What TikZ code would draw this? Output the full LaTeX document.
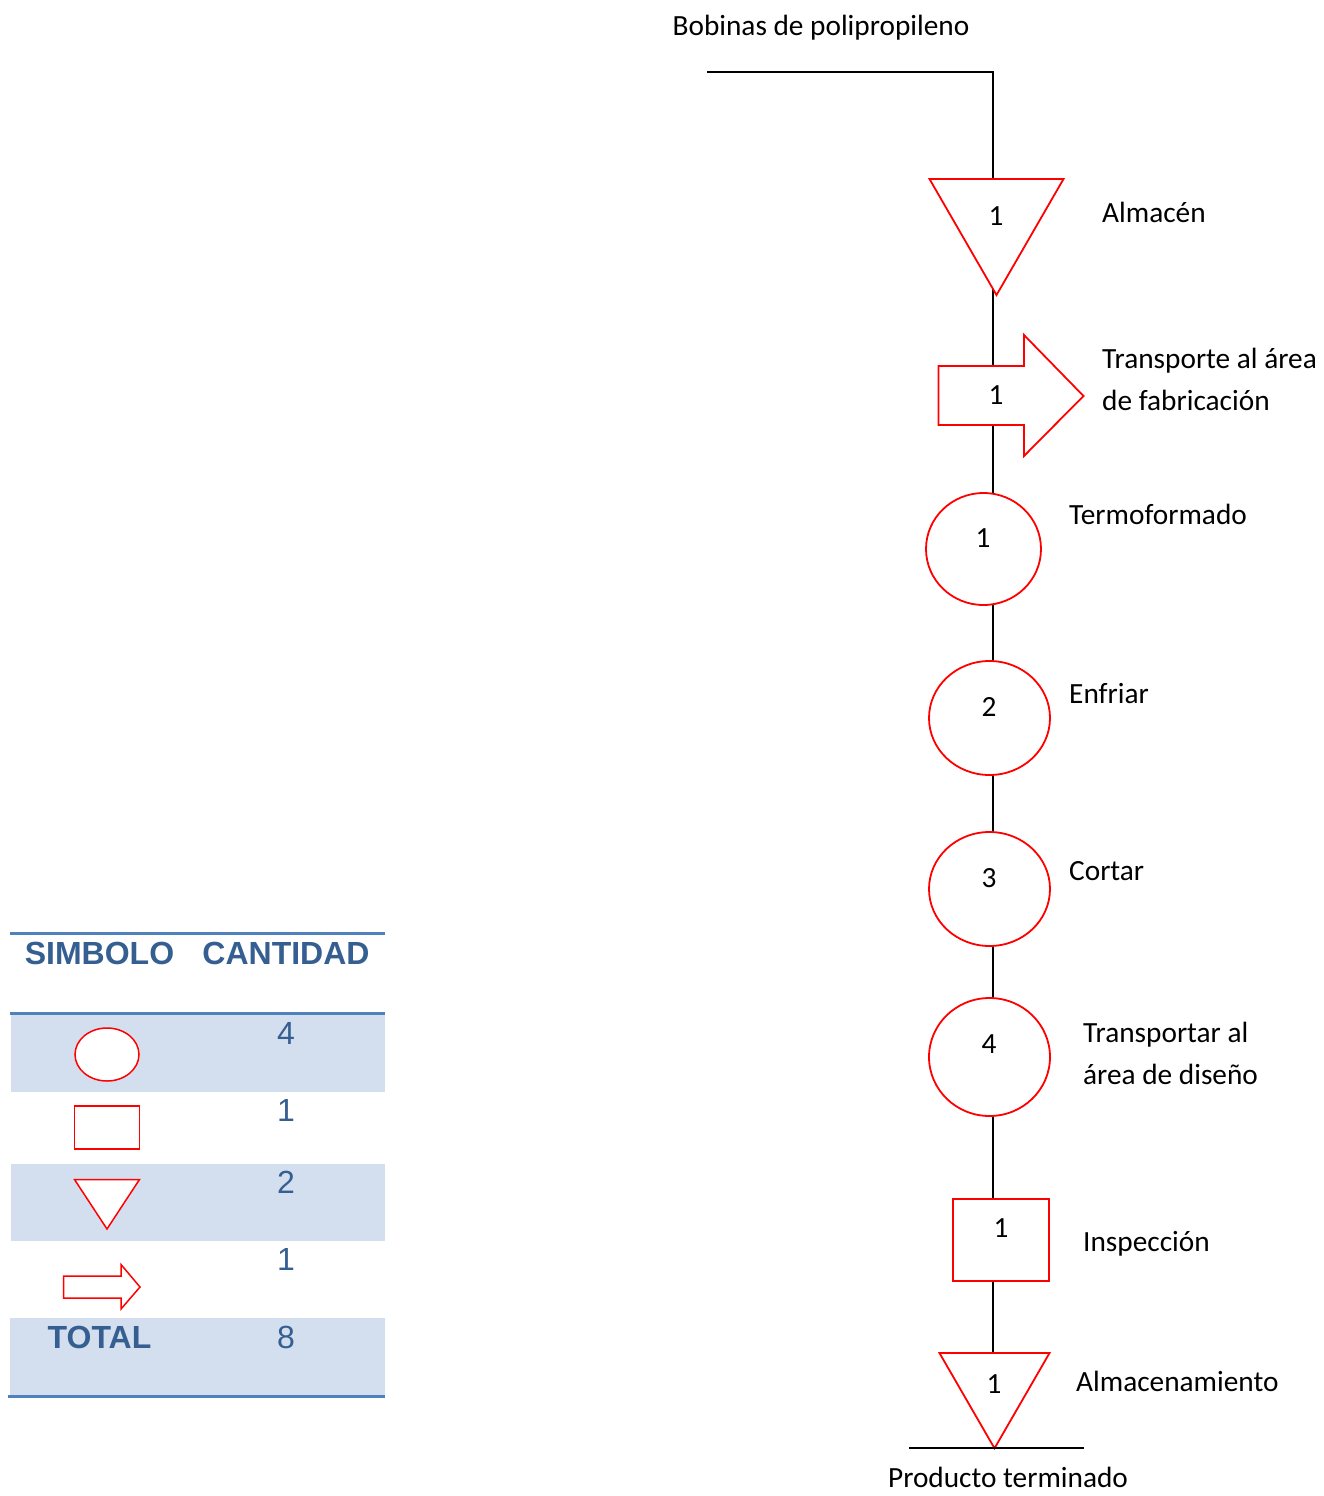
\documentclass[tikz,border=0pt]{standalone}
\usepackage{fontspec}
\setmainfont{Carlito}
\newfontfamily\tabfont{Liberation Sans}
\usetikzlibrary{shapes.geometric,backgrounds}
\definecolor{symred}{RGB}{255,0,0}
\definecolor{tabline}{HTML}{4F81BD}
\definecolor{tabfill}{HTML}{D3DFEE}
\definecolor{tabtext}{HTML}{365F91}

\begin{document}
\begin{tikzpicture}[x=1pt,y=-1pt,
  flow/.style={line width=1.8pt, black},
  sym/.style={draw=symred, line width=1.8pt, fill=white, inner sep=0pt, outer sep=0pt},
  legsym/.style={draw=symred, line width=1.5pt, fill=white, line join=miter},
  opcircle/.style={sym, ellipse},
  storetri/.style={sym, regular polygon, regular polygon sides=3, shape border rotate=180},
  inspbox/.style={sym, rectangle},
  txt/.style={inner sep=0pt, font=\fontsize{29.3}{35}\selectfont, anchor=base west},
  num/.style={inner sep=0pt, font=\fontsize{29.3}{35}\selectfont, anchor=base},
  thead/.style={inner sep=0pt, font=\tabfont\bfseries\fontsize{32}{38}\selectfont, text=tabtext, anchor=base},
  tnum/.style={inner sep=0pt, font=\tabfont\fontsize{32}{38}\selectfont, text=tabtext, anchor=base},
  rulel/.style={draw=tabline, line width=3pt},
  band/.style={fill=tabfill},
]
\useasboundingbox (0,0) rectangle (1324,1496);

% ---------- process chart ----------
\coordinate (src) at (707,72);
\coordinate (sp) at (993,0);

\node[storetri, minimum size=154.7pt] (t1) at (996.5,217.7) {};
% transport arrow
\coordinate (ar) at (1011,396);
\draw[sym, line join=miter] (938.5,366) -- (1024,366) -- (1024,335) -- (1083.5,396)
  -- (1024,456) -- (1024,425) -- (938.5,425) -- cycle;
\node[opcircle, minimum width=115pt, minimum height=112pt] (c1) at (983.5,549) {};
\node[opcircle, minimum width=121pt, minimum height=114pt] (c2) at (989.5,718) {};
\node[opcircle, minimum width=121pt, minimum height=114pt] (c3) at (989.5,889) {};
\node[opcircle, minimum width=121pt, minimum height=118pt] (c4) at (989.5,1057) {};
\node[inspbox, minimum width=96pt, minimum height=82pt] (r1) at (1001,1240) {};
\node[storetri, minimum size=127pt] (t2) at (994.5,1384.8) {};

% numbers inside the symbols
\node[num] (n1) at (996,225) {1};
\node[num] (n2) at (996,404) {1};
\node[num] (n3) at (983,547) {1};
\node[num] (n4) at (989,716) {2};
\node[num] (n5) at (989,887) {3};
\node[num] (n6) at (989,1053) {4};
\node[num] (n7) at (1001,1237) {1};
\node[num] (n8) at (994,1393) {1};

% connectors along the spine
\begin{scope}[on background layer]
  \draw[flow] (src) -- (src -| sp) -- (sp |- t1.center);
  \draw[flow] (sp |- t1.center) -- (sp |- ar);
  \draw[flow] (sp |- ar) -- (sp |- c1.center);
  \draw[flow] (sp |- c1.center) -- (sp |- c2.center);
  \draw[flow] (sp |- c2.center) -- (sp |- c3.center);
  \draw[flow] (sp |- c3.center) -- (sp |- c4.center);
  \draw[flow] (sp |- c4.center) -- (sp |- r1.center);
  \draw[flow] (sp |- r1.center) -- (sp |- t2.center);
\end{scope}
\coordinate (endl) at (909,1448);
\coordinate (endr) at (1084,1448);
\draw[flow] (endl) -- (endr);

% labels
\node[num] (lsrc) at (821,36) {Bobinas de polipropileno};
\node[txt] (l1) at (1102,222) {Almacén};
\node[txt] (l2a) at (1102,368) {Transporte al área};
\node[txt] (l2b) at (1102,410) {de fabricación};
\node[txt] (l3) at (1069,524) {Termoformado};
\node[txt] (l4) at (1069,703) {Enfriar};
\node[txt] (l5) at (1069,880) {Cortar};
\node[txt] (l6a) at (1083,1042) {Transportar al};
\node[txt] (l6b) at (1083,1084) {área de diseño};
\node[txt] (l7) at (1083,1251) {Inspección};
\node[txt] (l8) at (1076,1391) {Almacenamiento};
\node[num] (lend) at (1008,1487) {Producto terminado};

% ---------- summary table ----------
\fill[band] (11,1013) rectangle (385,1092);
\fill[band] (11,1163.5) rectangle (385,1241);
\fill[band] (10,1318) rectangle (385,1395);
\draw[rulel] (10,933) -- (385,933);
\draw[rulel] (10,1013) -- (385,1013);
\draw[rulel] (8,1396) -- (385,1396);

\node[thead] (hsym) at (99.5,964.5) {SIMBOLO};
\node[thead] (hcnt) at (286,964.5) {CANTIDAD};
\node[thead] (htot) at (99.5,1348.5) {TOTAL};
\node[tnum] (q1) at (286,1044.5) {4};
\node[tnum] (q2) at (286,1121.5) {1};
\node[tnum] (q3) at (286,1193.5) {2};
\node[tnum] (q4) at (286,1270.5) {1};
\node[tnum] (q5) at (286,1348.5) {8};

% legend symbols
\draw[legsym] (107,1054.5) ellipse [x radius=32, y radius=26.5];
\draw[legsym] (74.5,1106) rectangle (139.5,1149);
\draw[legsym] (74.5,1179.5) -- (139.5,1179.5) -- (107,1229) -- cycle;
\draw[legsym] (63.5,1276) -- (121,1276) -- (121,1264.5) -- (140,1287) -- (121,1309)
  -- (121,1298) -- (63.5,1298) -- cycle;
\end{tikzpicture}
\end{document}
